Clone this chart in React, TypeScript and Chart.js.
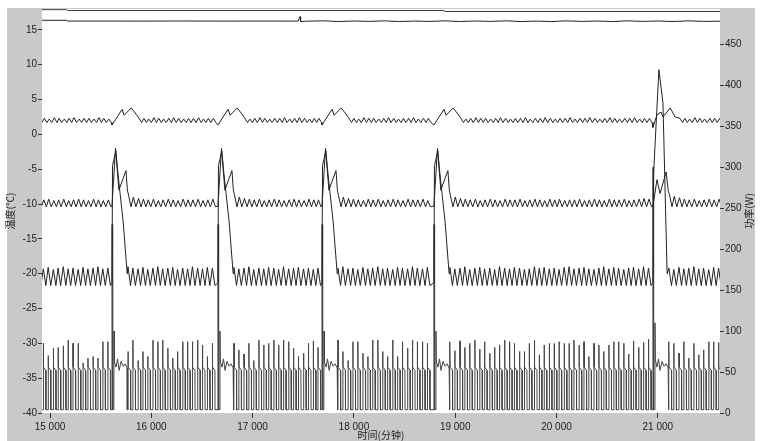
import { useEffect, useRef } from 'react';
import { Chart, registerables } from 'chart.js';

Chart.register(...registerables);

// ---- axes ----
const xTicks = [15000, 16000, 17000, 18000, 19000, 20000, 21000];
const leftTicks = [-40, -35, -30, -25, -20, -15, -10, -5, 0, 5, 10, 15];
const rightTicks = [0, 50, 100, 150, 200, 250, 300, 350, 400, 450];
const xRange = [14921, 21614];
const leftRange = [-40, 18];
const rightRange = [0, 493];
const xTitle = '时间(分钟)';
const leftTitle = '温度(℃)';
const rightTitle = '功率(W)';

// ---- defrost events (minutes) ----
const defrostTimes = [15612, 16658, 17685, 18790, 20952];

// ---- compressor cycle start times (minutes) ----
const cycleStarts = [
  14885, 14934, 14982, 15033, 15080, 15131, 15179, 15227, 15278, 15326, 15374, 15425, 15473, 15521, 15571,
  15770, 15818, 15869, 15917, 15965, 16016, 16064, 16112, 16163, 16211, 16259, 16310, 16358, 16406, 16457, 16505, 16553, 16603,
  16816, 16864, 16915, 16963, 17011, 17062, 17110, 17158, 17209, 17257, 17305, 17356, 17404, 17452, 17503, 17551, 17599, 17645,
  17843, 17891, 17942, 17990, 18038, 18089, 18137, 18185, 18236, 18284, 18332, 18383, 18431, 18479, 18530, 18578, 18626, 18677, 18725,
  18948, 18996, 19047, 19095, 19143, 19194, 19242, 19290, 19341, 19389, 19437, 19488, 19536, 19584, 19635, 19683, 19731, 19782, 19830, 19878,
  19929, 19977, 20025, 20076, 20124, 20172, 20223, 20271, 20319, 20370, 20418, 20466, 20517, 20565, 20613, 20664, 20712, 20760, 20811, 20859, 20908,
  21110, 21158, 21209, 21257, 21305, 21356, 21404, 21452, 21503, 21551, 21600,
];

// ---- power (W, right axis): peak of each compressor start ----
const powerPeaks = [
  80, 85, 70, 79, 80, 82, 89, 85, 85, 61, 67, 69, 67, 87, 87,
  75, 89, 64, 75, 69, 89, 87, 89, 79, 67, 75, 87, 87, 87, 89, 83, 69, 85,
  85, 77, 72, 85, 64, 89, 83, 85, 89, 83, 89, 87, 79, 69, 73, 85, 88, 80,
  89, 75, 64, 87, 87, 73, 69, 89, 89, 75, 69, 89, 69, 87, 79, 89, 87, 87, 85,
  87, 76, 88, 80, 85, 89, 78, 87, 73, 80, 83, 89, 87, 85, 75, 75, 85, 89, 71, 83,
  85, 85, 87, 85, 85, 89, 83, 87, 69, 85, 83, 75, 83, 87, 87, 85, 72, 88, 80, 86, 90,
  87, 85, 73, 87, 67, 85, 71, 77, 87, 87, 86,
];
const powerPlateau = [56, 52];
const powerOff = 4;
const powerDefrostOffsets = [0, 1, 6, 7, 18, 20, 24, 40, 55, 70, 90, 110, 130, 150, 151];
const powerDefrostValues = [4, 230, 230, 4, 4, 100, 62, 56, 66, 52, 63, 57, 60, 55, 4];
const powerLastOffsets = [0, 1, 6, 7, 18, 20, 24, 40, 55, 70, 90, 110, 130, 150, 151];
const powerLastValues = [4, 300, 300, 4, 4, 110, 65, 56, 66, 52, 63, 57, 60, 55, 4];

// ---- evaporator temperature (about -20 °C) ----
const evapHighs = [
  -19.2, -19.3, -19.1, -19.4, -19.2, -19.0, -19.3, -19.2, -19.4, -19.1, -19.3, -19.2, -19.0, -19.3, -19.2,
  -19.0, -19.2, -19.3, -19.1, -19.4, -19.2, -19.0, -19.3, -19.2, -19.1, -19.4, -19.2, -19.3, -19.0, -19.2, -19.3, -19.1, -19.2,
  -19.1, -19.3, -19.2, -19.0, -19.4, -19.2, -19.3, -19.1, -19.2, -19.4, -19.0, -19.3, -19.2, -19.1, -19.3, -19.2, -19.4, -19.2,
  -19.2, -19.0, -19.3, -19.2, -19.4, -19.1, -19.3, -19.2, -19.0, -19.3, -19.2, -19.4, -19.1, -19.2, -19.3, -19.0, -19.2, -19.3, -19.1,
  -19.1, -19.3, -19.2, -19.0, -19.4, -19.2, -19.1, -19.3, -19.2, -19.4, -19.0, -19.2, -19.3, -19.1, -19.2, -19.4, -19.3, -19.0, -19.2, -19.1,
  -19.3, -19.2, -19.4, -19.1, -19.0, -19.3, -19.2, -19.1, -19.3, -19.4, -19.2, -19.0, -19.3, -19.1, -19.2, -19.4, -19.2, -19.1, -19.3, -19.0, -19.2,
  -19.2, -19.4, -19.1, -19.3, -19.2, -19.0, -19.3, -19.2, -19.4, -19.1, -19.2,
];
const evapLow = -21.7;
const evapDefrostOffsets = [0, 5, 38, 58, 80, 110, 150];
const evapDefrostValues = [-21.3, -4.5, -2.4, -5.5, -8.5, -12.5, -20.0];
const evapLastOffsets = [0, 5, 59, 99, 140];
const evapLastValues = [-21.3, -6.0, 9.3, 4.5, -20.0];

// ---- cabinet temperature (about -10 °C) ----
const cabHighs = [
  -9.4, -9.4, -9.3, -9.5, -9.4, -9.3, -9.5, -9.4, -9.3, -9.4, -9.5, -9.3, -9.4, -9.5, -9.4,
  -8.7, -9.0, -9.2, -9.3, -9.4, -9.3, -9.5, -9.4, -9.3, -9.4, -9.5, -9.3, -9.4, -9.4, -9.3, -9.5, -9.4, -9.3,
  -8.7, -9.0, -9.2, -9.3, -9.4, -9.3, -9.5, -9.4, -9.3, -9.4, -9.5, -9.4, -9.3, -9.4, -9.5, -9.3, -9.4, -9.4,
  -8.8, -9.0, -9.2, -9.3, -9.4, -9.5, -9.3, -9.4, -9.3, -9.5, -9.4, -9.3, -9.4, -9.5, -9.3, -9.4, -9.4, -9.3, -9.5,
  -8.8, -9.0, -9.2, -9.3, -9.4, -9.3, -9.5, -9.4, -9.3, -9.4, -9.5, -9.3, -9.4, -9.4, -9.3, -9.5, -9.4, -9.3, -9.4, -9.5,
  -9.3, -9.4, -9.3, -9.5, -9.4, -9.4, -9.3, -9.5, -9.4, -9.3, -9.4, -9.5, -9.3, -9.4, -9.4, -9.3, -9.5, -9.4, -9.3, -9.2, -9.3,
  -8.6, -8.9, -9.1, -9.3, -9.4, -9.3, -9.5, -9.4, -9.3, -9.4, -9.3,
];
const cabLow = -10.4;
const cabDefrostOffsets = [0, 35, 68, 138, 152];
const cabDefrostValues = [-10.3, -2.0, -8.0, -5.2, -8.0];
const cabLastOffsets = [0, 12, 40, 70, 130, 152];
const cabLastValues = [-10.3, -9.2, -6.5, -8.5, -5.4, -8.2];

// ---- upper compartment temperature (about 2 °C) ----
const topHighs = [
  2.3, 2.3, 2.2, 2.4, 2.3, 2.2, 2.3, 2.4, 2.2, 2.3, 2.3, 2.2, 2.4, 2.3, 2.2,
  2.5, 2.4, 2.3, 2.3, 2.2, 2.4, 2.3, 2.2, 2.3, 2.4, 2.3, 2.2, 2.3, 2.3, 2.4, 2.2, 2.3, 2.3,
  2.5, 2.4, 2.3, 2.2, 2.3, 2.4, 2.3, 2.2, 2.3, 2.3, 2.4, 2.2, 2.3, 2.4, 2.3, 2.2, 2.3, 2.3,
  2.5, 2.4, 2.3, 2.3, 2.2, 2.4, 2.3, 2.3, 2.2, 2.3, 2.4, 2.3, 2.2, 2.3, 2.3, 2.4, 2.2, 2.3, 2.3,
  2.5, 2.4, 2.3, 2.2, 2.3, 2.4, 2.3, 2.3, 2.2, 2.3, 2.4, 2.3, 2.2, 2.3, 2.3, 2.4, 2.2, 2.3, 2.3, 2.4,
  2.3, 2.2, 2.3, 2.3, 2.4, 2.2, 2.3, 2.3, 2.4, 2.3, 2.2, 2.3, 2.4, 2.3, 2.2, 2.3, 2.3, 2.4, 2.2, 2.3, 2.3,
  2.5, 2.4, 2.3, 2.3, 2.2, 2.4, 2.3, 2.2, 2.3, 2.3, 2.3,
];
const topLow = 1.7;
const topDefrostOffsets = [0, 100, 120, 190, 245];
const topDefrostValues = [1.35, 3.6, 2.75, 3.8, 2.75];
const topLastOffsets = [0, 40, 80, 100, 170, 220];
const topLastValues = [1.0, 2.8, 3.2, 2.5, 3.8, 2.5];

// ---- two reference lines near the top ----
const refATimes = [14921, 15165, 15175, 18890, 18900, 21614];
const refAValues = [17.9, 17.9, 17.78, 17.78, 17.65, 17.65];
const refBTimes = [
  14921, 15165, 15175, 15500, 15900, 16300, 16700, 17100, 17450, 17468, 17474, 17520, 17700, 17850, 18000,
  18150, 18300, 18450, 18600, 18750, 18900, 19050, 19200, 19350, 19500, 19650, 19800, 19950, 20100, 20250,
  20400, 20550, 20700, 20850, 21000, 21150, 21300, 21450, 21614,
];
const refBValues = [
  16.38, 16.38, 16.27, 16.27, 16.26, 16.28, 16.26, 16.27, 16.26, 16.9, 16.2, 16.25, 16.3, 16.2, 16.28,
  16.22, 16.3, 16.2, 16.27, 16.22, 16.3, 16.2, 16.28, 16.22, 16.3, 16.2, 16.26, 16.2, 16.3, 16.22,
  16.27, 16.2, 16.3, 16.22, 16.28, 16.2, 16.3, 16.22, 16.25,
];

type Pt = { x: number; y: number };
type Profile = [number[], number[]];

function assemble(cyclePts: (t0: number, i: number) => Pt[], normal: Profile, last: Profile): Pt[] {
  const profiles = defrostTimes.map((_, k) => (k === defrostTimes.length - 1 ? last : normal));
  const pts: Pt[] = [];
  cycleStarts.forEach((t0, i) => {
    const blocked = defrostTimes.some((d, k) => {
      const offs = profiles[k][0];
      return t0 >= d && t0 <= d + offs[offs.length - 1];
    });
    if (!blocked) pts.push(...cyclePts(t0, i));
  });
  defrostTimes.forEach((d, k) => {
    const [offs, vals] = profiles[k];
    offs.forEach((o, j) => pts.push({ x: d + o, y: vals[j] }));
  });
  pts.sort((a, b) => a.x - b.x);
  return pts;
}

const fmtThousands = (v: number) => String(v).replace(/\B(?=(\d{3})+(?!\d))/g, ' ');

const tickFont = { family: '"Liberation Sans", Arial, sans-serif', size: 10 };
const titleFont = { family: '"Noto Sans CJK SC", sans-serif', size: 10 };

const panelPlugin = {
  id: 'panel',
  beforeDraw(chart: any) {
    const { ctx, chartArea: a } = chart;
    ctx.save();
    ctx.fillStyle = '#ffffff';
    ctx.fillRect(0, 0, chart.width, chart.height);
    ctx.fillStyle = '#c9c9c9';
    ctx.fillRect(7, 8, 748, chart.height - 8);
    ctx.fillStyle = '#ffffff';
    ctx.fillRect(a.left, a.top, a.right - a.left, a.bottom - a.top);
    ctx.restore();
  },
  afterDraw(chart: any) {
    // right axis title, rotated like the left one (reads bottom to top)
    const { ctx, chartArea: a } = chart;
    ctx.save();
    ctx.translate(749, (a.top + a.bottom) / 2);
    ctx.rotate(-Math.PI / 2);
    ctx.font = `${titleFont.size}px ${titleFont.family}`;
    ctx.fillStyle = '#222';
    ctx.textAlign = 'center';
    ctx.textBaseline = 'middle';
    ctx.fillText(rightTitle, 0, 0);
    ctx.restore();
  },
};

export default function App() {
  const ref = useRef<HTMLCanvasElement | null>(null);

  useEffect(() => {
    if (!ref.current) return;

    const power = assemble(
      (t0, i) => [
        { x: t0, y: powerOff },
        { x: t0 + 0.5, y: powerPeaks[i] },
        { x: t0 + 2, y: powerPlateau[0] },
        { x: t0 + 25, y: powerPlateau[1] },
        { x: t0 + 26, y: powerOff },
      ],
      [powerDefrostOffsets, powerDefrostValues],
      [powerLastOffsets, powerLastValues],
    );
    const evap = assemble(
      (t0, i) => [
        { x: t0, y: evapHighs[i] },
        { x: t0 + 25, y: evapLow },
      ],
      [evapDefrostOffsets, evapDefrostValues],
      [evapLastOffsets, evapLastValues],
    );
    const cab = assemble(
      (t0, i) => [
        { x: t0 + 5, y: cabHighs[i] },
        { x: t0 + 30, y: cabLow },
      ],
      [cabDefrostOffsets, cabDefrostValues],
      [cabLastOffsets, cabLastValues],
    );
    const top = assemble(
      (t0, i) => [
        { x: t0 + 10, y: topHighs[i] },
        { x: t0 + 35, y: topLow },
      ],
      [topDefrostOffsets, topDefrostValues],
      [topLastOffsets, topLastValues],
    );
    const refA = refATimes.map((t, i) => ({ x: t, y: refAValues[i] }));
    const refB = refBTimes.map((t, i) => ({ x: t, y: refBValues[i] }));

    const line = (data: Pt[], color: string, axis: string) => ({
      data,
      yAxisID: axis,
      borderColor: color,
      borderWidth: 1,
      pointRadius: 0,
      tension: 0,
      fill: false,
    });

    const chart = new Chart(ref.current, {
      type: 'line',
      data: {
        datasets: [
          line(refA, '#3a3a3a', 'y'),
          line(refB, '#222222', 'y'),
          line(top, '#222222', 'y'),
          line(cab, '#222222', 'y'),
          line(evap, '#222222', 'y'),
          line(power, '#444444', 'y1'),
        ] as any,
      },
      options: {
        animation: false,
        responsive: false,
        events: [],
        parsing: false as any,
        layout: { padding: { top: 9, left: 0, right: 0, bottom: 0 } },
        plugins: { legend: { display: false }, tooltip: { enabled: false } },
        scales: {
          x: {
            type: 'linear',
            min: xRange[0],
            max: xRange[1],
            afterBuildTicks: (s: any) => {
              s.ticks = xTicks.map((v) => ({ value: v }));
            },
            afterFit: (s: any) => {
              s.height = 28;
            },
            grid: { drawOnChartArea: false, drawTicks: true, tickLength: 5, color: '#333', tickColor: '#333' },
            border: { display: false },
            ticks: {
              padding: 3,
              autoSkip: false,
              maxRotation: 0,
              color: '#222',
              font: tickFont,
              callback: (v: any) => fmtThousands(Number(v)),
            },
            title: { display: true, text: xTitle, color: '#222', font: titleFont, padding: { top: 0, bottom: 0 } },
          },
          y: {
            type: 'linear',
            position: 'left',
            min: leftRange[0],
            max: leftRange[1],
            afterBuildTicks: (s: any) => {
              s.ticks = leftTicks.map((v) => ({ value: v }));
            },
            afterFit: (s: any) => {
              s.width = 42;
            },
            grid: { drawOnChartArea: false, drawTicks: true, tickLength: 4, color: '#333', tickColor: '#333' },
            border: { display: false },
            ticks: { padding: 1, color: '#222', font: tickFont, callback: (v: any) => String(v) },
            title: { display: true, text: leftTitle, color: '#222', font: titleFont, padding: { top: 4, bottom: 0 } },
          },
          y1: {
            type: 'linear',
            position: 'right',
            min: rightRange[0],
            max: rightRange[1],
            afterBuildTicks: (s: any) => {
              s.ticks = rightTicks.map((v) => ({ value: v }));
            },
            afterFit: (s: any) => {
              s.width = 42;
            },
            grid: { drawOnChartArea: false, drawTicks: true, tickLength: 4, color: '#333', tickColor: '#333' },
            border: { display: false },
            ticks: { padding: 1, color: '#222', font: tickFont, callback: (v: any) => String(v) },
            title: { display: false },
          },
        },
      },
      plugins: [panelPlugin],
    });

    return () => chart.destroy();
  }, []);

  return (
    <div style={{ position: 'absolute', left: 0, top: 0, width: 762, height: 441, background: '#fff' }}>
      <canvas ref={ref} width={762} height={441} style={{ display: 'block', width: 762, height: 441 }} />
    </div>
  );
}
